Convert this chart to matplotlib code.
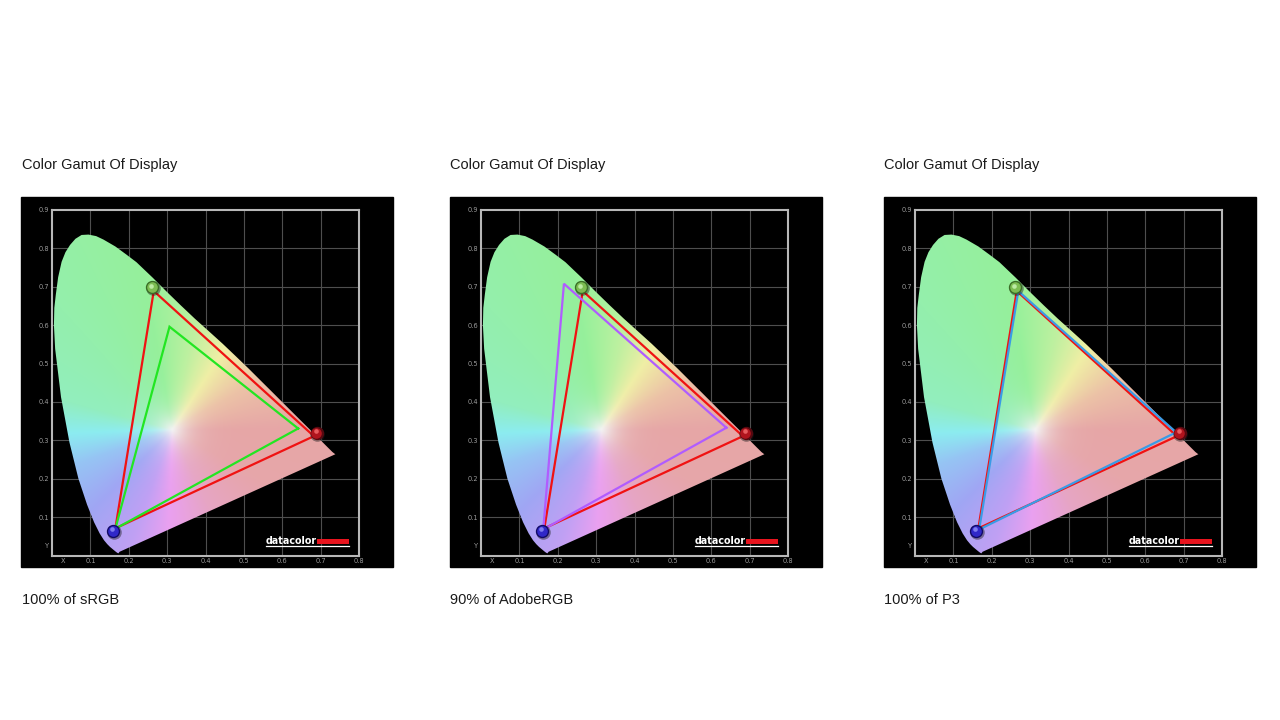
import numpy as np
import matplotlib
matplotlib.use("Agg")
import matplotlib.pyplot as plt
from matplotlib.patches import Polygon, Rectangle

# ---------------- data ----------------
# spectral locus outline (x, y), blue end -> red end
locus_x = [0.1760, 0.1738, 0.1733, 0.1726, 0.1714, 0.1689, 0.1644, 0.1566, 0.1510,
           0.1440, 0.1355, 0.1241, 0.1096, 0.0913, 0.0687, 0.0454, 0.0235, 0.0082,
           0.0050, 0.0060, 0.0100, 0.0160, 0.0250, 0.0350, 0.0470, 0.0610, 0.0770,
           0.0950, 0.1150, 0.1340, 0.1650, 0.1950, 0.2200, 0.2420, 0.2620, 0.2800,
           0.3000, 0.3350, 0.3720, 0.4087, 0.4441, 0.4788, 0.5125, 0.5448, 0.5752,
           0.6029, 0.6270, 0.6482, 0.6658, 0.6915, 0.7079, 0.7190, 0.7260, 0.7300,
           0.7350, 0.7380]
locus_y = [0.0100, 0.0070, 0.0060, 0.0060, 0.0065, 0.0080, 0.0115, 0.0180, 0.0227,
           0.0297, 0.0399, 0.0578, 0.0868, 0.1327, 0.2007, 0.2950, 0.4127, 0.5384,
           0.6000, 0.6450, 0.6800, 0.7250, 0.7650, 0.7900, 0.8090, 0.8250, 0.8350,
           0.8360, 0.8320, 0.8230, 0.8050, 0.7830, 0.7640, 0.7430, 0.7240, 0.7060,
           0.6860, 0.6520, 0.6170, 0.5840, 0.5520, 0.5190, 0.4866, 0.4544, 0.4242,
           0.3965, 0.3725, 0.3514, 0.3340, 0.3083, 0.2920, 0.2809, 0.2740, 0.2700,
           0.2660, 0.2640]

# display gamut lines (R, G, B) and the marker spheres
display_x = [0.682, 0.265, 0.165]
display_y = [0.311, 0.689, 0.071]
marker_x = [0.689, 0.260, 0.159]
marker_y = [0.319, 0.699, 0.064]

# reference gamuts (R, G, B)
srgb_x = [0.641, 0.306, 0.165]
srgb_y = [0.331, 0.596, 0.070]
adobe_x = [0.639, 0.216, 0.162]
adobe_y = [0.333, 0.708, 0.068]
p3_x = [0.680, 0.269, 0.167]
p3_y = [0.321, 0.689, 0.068]

ref_x = [srgb_x, adobe_x, p3_x]
ref_y = [srgb_y, adobe_y, p3_y]
coverage = ["100% of sRGB", "90% of AdobeRGB", "100% of P3"]
panel_title = "Color Gamut Of Display"

x_ticks = [0.1, 0.2, 0.3, 0.4, 0.5, 0.6, 0.7, 0.8]
y_ticks = [0.1, 0.2, 0.3, 0.4, 0.5, 0.6, 0.7, 0.8, 0.9]

# ---------------- styling ----------------
ref_colors = ["#22e622", "#b05cff", "#3a9be6"]
W, H = 1280, 720
panel_left = [21, 450, 884]
panel_top, panel_w, panel_h = 197, 372, 370


def rect(l, t, w, h):
    return [l / W, 1 - (t + h) / H, w / W, h / H]


# chromaticity colour field (pastel, hue by angle around white point)
wx, wy = 0.3127, 0.3290
hue_ang = [0, 30, 57, 78, 100, 165, 182, 200, 225, 250, 268, 295, 330, 360]
hue_rgb = np.array([
    (230, 166, 166), (236, 194, 166), (240, 238, 165), (190, 240, 160),
    (150, 240, 155), (146, 238, 190), (140, 236, 240), (150, 196, 244),
    (160, 166, 244), (192, 160, 244), (234, 160, 240), (230, 165, 196),
    (230, 166, 170), (230, 166, 166)]) / 255.0

nx, ny = 480, 540
gx = np.linspace(0, 0.8, nx)
gy = np.linspace(0, 0.9, ny)
XX, YY = np.meshgrid(gx, gy)
ang = (np.degrees(np.arctan2(YY - wy, XX - wx)) + 360) % 360
dist = np.hypot(XX - wx, YY - wy)
sat = 1 - np.exp(-(dist / 0.045) ** 1.2)
field = np.empty((ny, nx, 3))
white = 0.95
for c in range(3):
    base = np.interp(ang, hue_ang, hue_rgb[:, c])
    field[..., c] = white + (base - white) * sat
field = np.clip(field, 0, 1)

fig = plt.figure(figsize=(12.8, 7.2), dpi=100)
fig.patch.set_facecolor("white")

sphere_cols = [("#560810", "#b0141d", "#ff7a7a"),
               ("#3a6e26", "#7cbd52", "#d8ffc8"),
               ("#120a66", "#3028c8", "#a0a0ff")]

for i in range(3):
    pl = panel_left[i]
    fig.add_artist(Rectangle((pl / W, 1 - (panel_top + panel_h) / H),
                             panel_w / W, panel_h / H,
                             transform=fig.transFigure, color="black", zorder=-5))
    fig.text((pl + 0.5) / W, 1 - 165.5 / H, panel_title, fontsize=10.5,
             family="Liberation Sans", va="center", ha="left", color="#1a1a1a")
    fig.text((pl + 0.5) / W, 1 - 599.5 / H, coverage[i], fontsize=10.5,
             family="Liberation Sans", va="center", ha="left", color="#1a1a1a")

    ax = fig.add_axes(rect(pl + 31, 210, 307.2, 345.6))
    ax.set_facecolor("black")
    ax.set_xlim(0, 0.8)
    ax.set_ylim(0, 0.9)
    for s in ax.spines.values():
        s.set_color("#b8b8b8")
        s.set_linewidth(1.5)
    ax.set_xticks([0.03] + x_ticks, ["X"] + [f"{v:.1f}" for v in x_ticks])
    ax.set_yticks([0.025] + y_ticks, ["Y"] + [f"{v:.1f}" for v in y_ticks])
    ax.tick_params(length=0, labelsize=4.8, colors="#9a9a9a", pad=2.0)
    for v in x_ticks[:-1]:
        ax.axvline(v, color="#4e4e4e", lw=0.8, zorder=1)
    for v in y_ticks[:-1]:
        ax.axhline(v, color="#4e4e4e", lw=0.8, zorder=1)

    im = ax.imshow(field, extent=(0, 0.8, 0, 0.9), origin="lower",
                   interpolation="bilinear", zorder=2, aspect="auto")
    poly = Polygon(np.column_stack([locus_x, locus_y]), closed=True,
                   transform=ax.transData)
    im.set_clip_path(poly)

    # display gamut (red)
    ax.plot(display_x + display_x[:1], display_y + display_y[:1],
            color="#f01212", lw=1.6, zorder=4, solid_joinstyle="miter")
    # reference gamut
    ax.plot(ref_x[i] + ref_x[i][:1], ref_y[i] + ref_y[i][:1],
            color=ref_colors[i], lw=1.6, zorder=5, solid_joinstyle="miter")

    # primaries spheres
    for k in range(3):
        dark, mid, hi = sphere_cols[k]
        px, py = marker_x[k], marker_y[k]
        ax.scatter([px + 0.002], [py - 0.003], s=110, color="#202020", alpha=0.45,
                   zorder=6, linewidths=0)
        ax.scatter([px], [py], s=92, color=dark, zorder=7, linewidths=0)
        ax.scatter([px - 0.0008], [py + 0.0012], s=58, color=mid, zorder=8, linewidths=0)
        ax.scatter([px - 0.0015], [py + 0.0042], s=11, color=hi, alpha=0.7,
                   zorder=9, linewidths=0)

    # datacolor logo
    ax.text(0.557, 0.0305, "datacolor", color="white", fontsize=6.9,
            fontweight="bold", family="DejaVu Sans", ha="left", va="baseline",
            zorder=10)
    ax.add_patch(Rectangle((0.689, 0.030), 0.0845, 0.0125, color="#e8141e",
                           lw=0, zorder=10))
    ax.plot([0.557, 0.774], [0.024, 0.024], color="white", lw=0.9, zorder=10)

fig.savefig("out.png", dpi=100, facecolor="white")
